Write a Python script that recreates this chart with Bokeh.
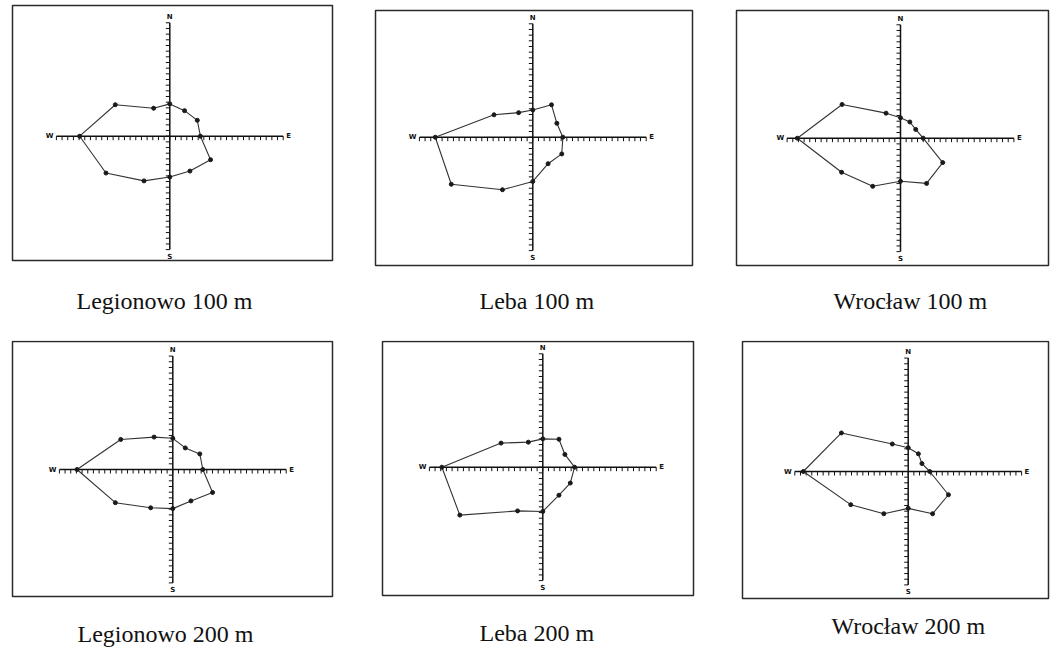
import numpy as np
from bokeh.plotting import figure
from bokeh.layouts import column, row
from bokeh.models import Range1d, ColumnDataSource
from bokeh.core.properties import value
from bokeh.embed import file_html
from bokeh.resources import INLINE

# ---- data: relative frequency along 12 directions (every 30 deg, clockwise from N)
directions_deg = [0, 30, 60, 90, 120, 150, 180, 210, 240, 270, 300, 330]

legionowo_100 = [5.7, 5.2, 5.6, 5.4, 8.3, 7.1, 7.2, 9.1, 13.0, 15.9, 11.1, 5.7]
leba_100 = [4.8, 6.6, 4.9, 5.3, 5.9, 5.4, 7.8, 10.7, 16.6, 17.2, 7.9, 5.0]
wroclaw_100 = [3.6, 3.3, 3.1, 4.0, 8.6, 9.2, 7.6, 9.8, 12.0, 18.2, 11.9, 5.1]
legionowo_200 = [5.5, 4.4, 5.5, 5.3, 8.1, 6.4, 6.9, 7.8, 11.7, 16.9, 10.6, 6.6]
leba_200 = [5.0, 5.7, 4.5, 5.6, 5.6, 5.7, 7.8, 8.9, 16.9, 17.8, 8.5, 5.1]
wroclaw_200 = [4.2, 3.6, 2.8, 3.8, 8.2, 8.6, 6.5, 8.6, 11.7, 18.5, 13.6, 5.6]

captions = ["Legionowo 100 m", "Leba 100 m", "Wrocław 100 m",
            "Legionowo 200 m", "Leba 200 m", "Wrocław 200 m"]
series = [legionowo_100, leba_100, wroclaw_100,
          legionowo_200, leba_200, wroclaw_200]

axis_limit = 20
axis_ticks = list(range(-axis_limit, axis_limit + 1))
compass_labels = ["N", "E", "S", "W"]

# ---- layout / styling (page pixels)
SCALE = 5.67      # pixels per unit
TICK_PX = 4       # tick length in pixels
# cell (l, t, r, b), rose centre (x, y), box (l, t, r, b), caption left x / centre y
panel_cfg = [
    dict(cell=(0, 0, 372, 340), c=(169.3, 135.7), box=(12, 5, 332, 260), cap=(76, 300)),
    dict(cell=(372, 0, 733, 340), c=(532.3, 136.7), box=(375, 10, 692, 265), cap=(479, 300)),
    dict(cell=(733, 0, 1052, 340), c=(900.0, 137.7), box=(736, 10, 1048, 265), cap=(833, 300)),
    dict(cell=(0, 340, 372, 647), c=(172.3, 469.0), box=(12, 341, 332, 596), cap=(77, 633)),
    dict(cell=(372, 340, 738, 647), c=(542.3, 466.7), box=(382, 341, 693, 595), cap=(479, 632)),
    dict(cell=(738, 340, 1052, 647), c=(907.7, 471.0), box=(742, 341, 1048, 598), cap=(831, 625)),
]


def px_x(px, c):
    return (px - c["c"][0]) / SCALE


def px_y(py, c):
    return (c["c"][1] - py) / SCALE


def make_panel(vals, caption, c):
    cl, ct, cr, cb = c["cell"]
    p = figure(frame_width=cr - cl, frame_height=cb - ct,
               x_range=Range1d(px_x(cl, c), px_x(cr, c)),
               y_range=Range1d(px_y(cb, c), px_y(ct, c)),
               x_axis_type=None, y_axis_type=None, toolbar_location=None,
               output_backend="svg",
               min_border_left=0, min_border_right=0,
               min_border_top=0, min_border_bottom=0)
    p.outline_line_color = None
    p.background_fill_color = "white"
    p.border_fill_color = "white"

    # panel box
    bl, bt, br, bb = c["box"]
    p.quad(left=[px_x(bl, c)], right=[px_x(br, c)], top=[px_y(bt, c)], bottom=[px_y(bb, c)],
           fill_color=None, line_color="#2a2a2a", line_width=1.5)

    # crossing axes with unit ticks
    t = np.array(axis_ticks, dtype=float)
    tick_len = TICK_PX / SCALE
    p.segment(x0=[-axis_limit, 0], y0=[0, -axis_limit], x1=[axis_limit, 0], y1=[0, axis_limit],
              line_color="#111111", line_width=1.5)
    p.segment(x0=t, y0=np.zeros_like(t), x1=t, y1=np.full_like(t, -tick_len),
              line_color="#111111", line_width=1)
    p.segment(x0=np.zeros_like(t), y0=t, x1=np.full_like(t, -tick_len), y1=t,
              line_color="#111111", line_width=1)

    theta = np.radians(directions_deg)
    r = np.array(vals)
    xs = r * np.sin(theta)
    ys = r * np.cos(theta)
    xs_c = np.append(xs, xs[0])
    ys_c = np.append(ys, ys[0])
    p.line(xs_c, ys_c, line_color="#333333", line_width=1.1)
    p.scatter(xs, ys, size=4, color="#1a1a1a")

    # compass letters at the axis ends
    lab = ColumnDataSource(dict(
        x=[0, axis_limit, 0, -axis_limit],
        y=[axis_limit, 0, -axis_limit, 0],
        t=compass_labels,
        ax=["center", "left", "center", "right"],
        bx=["bottom", "middle", "top", "middle"],
        xo=[0, 3, 0, -3],
        yo=[-2, 0, 3, 0],
    ))
    p.text(x="x", y="y", text="t", source=lab, text_align="ax", text_baseline="bx",
           x_offset="xo", y_offset="yo", text_font=value("DejaVu Sans"),
           text_font_size="7px", text_font_style="bold", text_color="#111111")

    # caption below the box
    capx, capy = c["cap"]
    p.text(x=[px_x(capx, c)], y=[px_y(capy, c)], text=[caption],
           text_align="left", text_baseline="middle",
           text_font=value("Liberation Serif"), text_font_size="24px",
           text_color="#111111")
    return p


figs = [make_panel(v, t, c) for v, t, c in zip(series, captions, panel_cfg)]
layout = column(row(*figs[:3]), row(*figs[3:]))

open("out.html", "w").write(file_html(layout, INLINE))
